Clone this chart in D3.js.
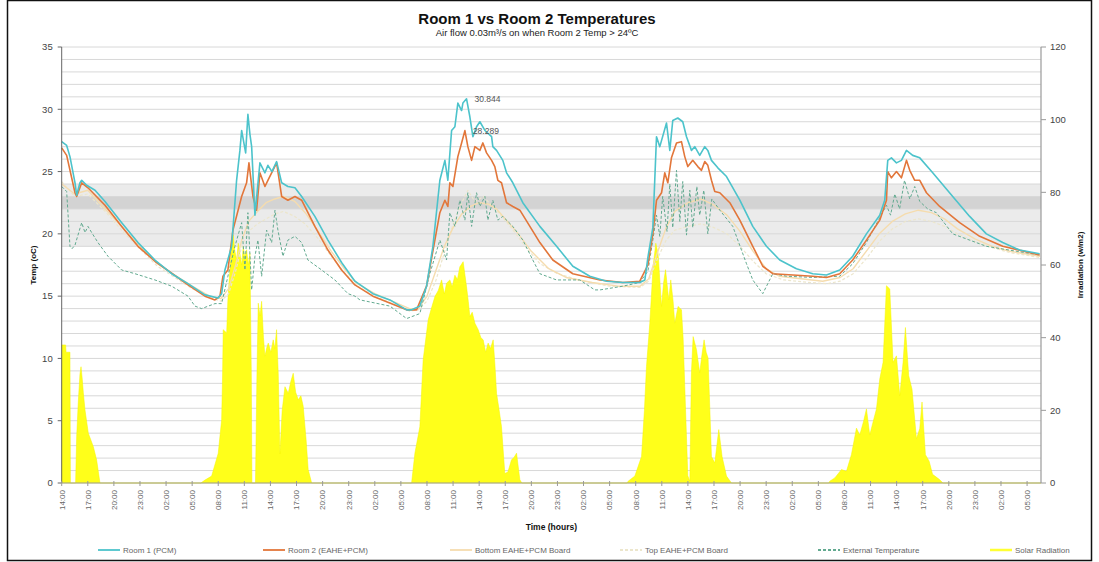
<!DOCTYPE html>
<html><head><meta charset="utf-8">
<script src="https://cdn.jsdelivr.net/npm/d3@7"></script>
<style>
html,body{margin:0;padding:0;background:#fff;}
svg{display:block;font-family:"Liberation Sans",Arial,sans-serif;}
</style></head>
<body><svg id="c" width="1099" height="562"></svg>
<script>
// ---------- data (hours since 14:00 on day 1) ----------
const xTickLabels = ["14:00","17:00","20:00","23:00","02:00","05:00","08:00","11:00",
"14:00","17:00","20:00","23:00","02:00","05:00","08:00","11:00",
"14:00","17:00","20:00","23:00","02:00","05:00","08:00","11:00",
"14:00","17:00","20:00","23:00","02:00","05:00","08:00","11:00",
"14:00","17:00","20:00","23:00","02:00","05:00"];
const tempTicks = [0,5,10,15,20,25,30,35];
const radTicks = [0,20,40,60,80,100,120];
const comfortBand = [19,24];
const comfortCore = [22,23];

const room1 = [[0,27.4],[0.57,27.1],[0.95,26.2],[1.53,24.1],[1.72,23.1],[2.1,24.1],[2.3,24.3],[2.87,23.9],[3.83,23.5],[4.98,22.6],[6.9,20.9],[8.77,19.3],[10.72,17.9],[12.64,16.8],[14.52,16.0],[16.47,15.1],[17.97,14.85],[18.39,15.2],[18.77,17.1],[19.54,19.0],[20.11,24.3],[20.49,26.7],[20.69,28.3],[21.15,26.5],[21.41,29.6],[21.64,28.0],[21.84,27.0],[22.22,21.5],[22.79,25.7],[23.37,24.9],[23.71,25.5],[24.17,25.0],[24.71,25.8],[25.29,24.1],[26.01,23.8],[26.82,23.7],[27.59,23.0],[29.11,21.4],[30.61,19.5],[32.18,17.7],[33.71,16.2],[35.78,15.2],[37.74,14.7],[39.66,13.9],[40.23,13.9],[41.18,14.2],[41.95,15.8],[42.68,19.0],[43.48,24.3],[44.06,25.9],[44.4,24.3],[44.83,28.3],[45.21,28.6],[45.55,30.5],[45.98,29.9],[46.13,30.5],[46.55,30.844],[46.93,29.4],[47.28,27.8],[47.7,28.6],[48.08,29.0],[48.66,28.3],[49.43,27.8],[49.57,27.0],[50.0,26.7],[50.72,25.9],[51.15,24.9],[51.87,24.1],[53.02,22.5],[54.98,20.6],[56.9,19.0],[58.77,17.4],[60.72,16.6],[62.64,16.2],[64.52,16.1],[66.47,16.1],[67.05,16.3],[67.4,18.1],[67.97,20.5],[68.39,27.8],[68.77,27.0],[69.54,28.9],[69.92,26.7],[70.26,29.1],[70.84,29.3],[71.41,29.0],[71.84,27.8],[72.41,26.7],[72.79,27.0],[73.36,26.3],[73.94,27.0],[74.29,26.7],[74.71,25.9],[75.44,25.3],[76.44,24.6],[77.97,22.7],[79.46,20.6],[81.03,19.0],[82.56,17.9],[84.48,17.2],[86.36,16.8],[87.93,16.7],[89.46,17.1],[90.95,18.2],[92.53,20.0],[94.06,21.5],[94.63,22.7],[94.98,25.9],[95.4,26.1],[95.98,25.7],[96.55,25.9],[97.13,26.7],[97.85,26.3],[98.66,26.1],[100.15,24.9],[102.45,23.0],[104.4,21.4],[106.32,20.0],[108.2,19.3],[110.15,18.7],[112.45,18.4]];

const room2 = [[0,26.9],[0.57,26.3],[1.53,23.3],[1.72,23.0],[2.3,24.1],[3.02,23.7],[4.98,22.3],[6.9,20.6],[8.77,19.0],[10.72,17.8],[14.52,15.9],[16.47,15.0],[17.62,14.7],[18.2,15.0],[18.54,16.6],[19.11,17.1],[19.69,20.3],[20.69,23.0],[21.26,24.1],[21.53,25.7],[21.99,23.0],[22.41,21.9],[22.79,24.9],[23.37,23.8],[23.71,24.3],[24.71,25.7],[25.29,23.0],[26.01,22.7],[26.82,23.0],[27.59,22.7],[29.11,20.6],[30.61,18.7],[32.18,17.1],[33.71,15.9],[35.78,15.0],[39.66,13.9],[40.8,13.9],[41.95,15.8],[43.48,21.7],[44.06,22.7],[44.4,22.2],[44.63,24.1],[44.98,23.8],[45.55,26.2],[45.98,27.3],[46.36,28.289],[46.7,27.0],[47.13,25.9],[47.51,27.0],[48.08,26.7],[48.43,27.3],[48.85,26.5],[49.43,25.9],[49.8,25.4],[50.15,24.3],[50.57,24.1],[51.15,22.5],[51.87,22.2],[52.68,21.9],[53.83,20.6],[54.98,19.3],[56.47,17.9],[58.77,16.8],[61.89,16.3],[64.52,16.1],[66.47,16.2],[67.4,17.5],[67.97,20.0],[68.39,22.7],[68.97,23.3],[69.34,24.9],[69.69,24.1],[70.11,26.1],[70.69,27.3],[71.26,27.4],[71.64,26.2],[71.99,25.4],[72.56,25.9],[73.14,25.4],[73.56,25.1],[73.94,25.8],[74.29,25.5],[74.71,24.3],[75.09,23.4],[75.67,23.3],[76.82,22.5],[77.97,21.1],[79.46,19.0],[80.61,17.4],[81.76,16.8],[84.06,16.7],[86.36,16.6],[87.93,16.5],[89.46,16.8],[90.95,17.9],[92.53,19.5],[94.06,21.1],[94.83,22.7],[94.98,25.0],[95.4,24.5],[95.98,25.0],[96.55,24.5],[97.13,25.9],[97.51,25.1],[98.08,24.3],[98.66,24.3],[99.43,23.3],[100.95,22.2],[103.25,20.9],[105.55,19.8],[108.2,19.0],[112.45,18.3]];

const bottomBoard = [[0,24.0],[1.5,23.2],[3,23.5],[5,22.0],[7,20.5],[9,19.0],[11,17.6],[13,16.7],[15,15.8],[17,15.0],[18.3,14.8],[19.2,15.6],[20,17.5],[20.7,19.5],[21.5,21.0],[22.5,21.8],[23.5,22.5],[24.5,22.8],[25.5,23.0],[26.8,22.6],[28,21.7],[29.5,20.2],[31,18.6],[32.5,17.2],[34,16.0],[36,15.2],[38,14.6],[40,14.0],[41,14.0],[42,15.0],[43,17.0],[44,19.0],[45,20.5],[46,21.6],[47,22.2],[48,22.5],[49,22.4],[50,22.0],[51,21.2],[52.5,20.0],[54,18.6],[56,17.2],[58,16.5],[61,16.1],[64,15.8],[66.5,15.8],[67.5,16.4],[68.5,18.5],[69.5,20.5],[70.5,21.8],[72,22.5],[73.5,22.8],[75,22.3],[76.5,21.5],[78,20.2],[79.5,18.6],[81,17.2],[82.5,16.6],[85,16.4],[87.5,16.2],[89.5,16.5],[91,17.2],[92.5,18.6],[94,20.0],[95.5,21.0],[97,21.6],[98.5,21.9],[100,21.7],[101.5,21.2],[103,20.4],[105,19.6],[107,19.0],[109,18.6],[112.5,18.2]];

const topBoard = [[0,24.2],[1.5,23.0],[3,23.2],[5,21.8],[7,20.2],[9,18.8],[11,17.4],[13,16.5],[15,15.6],[17,14.9],[18.3,14.6],[19.2,15.2],[20,17.0],[20.7,19.0],[21.5,20.2],[22.5,20.8],[23.5,21.2],[24.5,21.6],[25.5,21.8],[26.8,21.4],[28,20.8],[29.5,19.6],[31,18.2],[32.5,16.9],[34,15.8],[36,15.0],[38,14.4],[40,13.8],[41,13.9],[42,14.6],[43,16.2],[44,18.5],[45,20.8],[46,22.5],[46.7,23.5],[47.5,22.6],[48.5,23.0],[49.5,22.2],[50.5,21.5],[52,20.2],[53.5,18.8],[55,17.6],[57,16.8],[60,16.2],[63,15.8],[66.5,15.7],[67.5,16.2],[68.5,18.0],[69.5,19.5],[70.5,20.3],[72,20.6],[73.5,20.8],[75,20.5],[76.5,20.0],[78,19.0],[79.5,17.8],[81,16.8],[83,16.3],[86,16.1],[88,16.0],[89.5,16.2],[91,16.8],[92.5,18.0],[94,19.4],[95.5,20.4],[97,21.0],[98.5,21.2],[100,21.0],[101.5,20.6],[103,20.0],[105,19.4],[107,18.9],[109,18.5],[112.5,18.1]];

const external = [[0,23.8],[0.57,23.4],[0.95,19.0],[1.18,18.8],[1.53,19.1],[2.3,20.9],[2.68,20.1],[3.02,20.6],[3.45,20.1],[4.17,19.3],[5.32,18.2],[6.9,17.1],[8.43,16.8],[10.72,16.3],[12.64,15.8],[14.52,15.0],[15.32,14.2],[16.09,14.0],[17.62,14.4],[18.39,14.4],[19.11,16.6],[19.92,19.0],[20.69,20.9],[21.07,17.1],[21.41,21.7],[21.84,15.5],[22.22,18.2],[22.56,19.5],[22.99,16.6],[23.56,20.3],[24.14,19.3],[24.52,21.9],[24.86,20.3],[25.44,18.2],[26.01,19.5],[26.82,19.8],[27.59,19.3],[28.31,17.9],[29.89,17.1],[31.41,16.3],[32.91,15.2],[33.71,15.0],[34.29,14.7],[37.74,14.2],[38.89,13.6],[39.66,13.2],[41.18,13.6],[42.33,16.8],[43.48,19.5],[44.25,17.9],[44.63,21.7],[45.21,20.6],[45.78,22.7],[46.36,21.1],[46.7,23.3],[47.13,20.6],[47.7,23.3],[48.08,22.2],[48.66,23.0],[49.0,21.1],[49.57,22.7],[50.15,21.1],[50.72,21.4],[51.87,20.6],[53.02,19.5],[54.17,17.9],[54.98,16.8],[56.9,16.3],[59.57,16.3],[61.3,15.5],[61.89,15.5],[64.52,15.8],[66.47,16.1],[67.4,17.0],[67.97,19.5],[68.39,21.5],[68.77,19.8],[69.1,23.0],[69.6,20.2],[69.92,24.0],[70.26,20.5],[70.69,25.1],[71.07,21.0],[71.41,24.2],[71.84,19.9],[72.22,23.5],[72.56,20.5],[73.03,23.8],[73.36,21.5],[73.83,23.5],[74.29,20.0],[74.75,22.8],[75.67,21.9],[77.16,20.6],[78.74,17.6],[79.46,16.3],[80.61,15.2],[81.76,16.8],[83.33,16.6],[86.36,16.5],[89.46,16.6],[90.95,17.6],[92.53,19.3],[94.06,21.3],[94.83,22.3],[95.3,21.5],[95.79,23.2],[96.34,22.0],[96.91,24.3],[97.51,22.8],[98.08,23.8],[98.66,22.6],[99.57,22.0],[100.57,21.7],[102.45,20.0],[106.32,19.0],[112.45,18.3]];

const solar = [[0,38],[0.45,38],[0.5,36],[0.95,36],[1.0,0],[1.6,0],[1.72,12.7],[1.9,22],[2.1,30],[2.22,32],[2.35,29],[2.49,24.8],[2.68,20.1],[3.06,13.7],[3.64,10.0],[4.02,6.3],[4.4,0],
[16.0,0],[16.47,0.8],[17.24,1.9],[18.0,8.2],[18.39,17.4],[18.5,30],[18.57,42.2],[18.97,41.3],[19.1,50],[19.34,58.7],[19.5,64],[19.72,68.3],[19.9,64],[20.11,61.4],[20.3,66],[20.49,63.2],[20.7,60],[20.87,65.1],[21.05,62],[21.26,64.2],[21.45,60],[21.64,63.2],[21.8,30],[21.87,0],[22.28,0],[22.45,30],[22.6,49.5],[22.8,46],[22.99,50.0],[23.2,40],[23.37,34.9],[23.55,37],[23.75,38.5],[24.05,36],[24.32,39.4],[24.5,37],[24.71,42.2],[24.9,30],[25.09,8],[25.35,20],[25.67,26.5],[26.05,24.7],[26.35,28],[26.62,30.2],[26.9,25],[27.2,22.9],[27.5,24],[27.77,21.1],[28.1,12],[28.34,3.7],[28.74,0],
[40.23,0],[40.61,8.2],[41.18,15.5],[41.56,33.9],[42.14,44.9],[42.5,48],[42.91,51.3],[43.3,53],[43.68,55.9],[44.0,52],[44.25,55.0],[44.63,55.9],[44.9,54],[45.21,57.2],[45.5,56],[45.78,59.5],[46.16,60.9],[46.55,54.0],[46.75,50],[46.93,45.8],[47.2,47],[47.51,44.0],[47.89,42.2],[48.2,40],[48.46,39.4],[48.75,36],[49.03,38.5],[49.3,37],[49.61,39.4],[49.8,33],[50.0,24.7],[50.3,20],[50.57,15.5],[50.95,2.6],[51.3,3],[51.72,6.4],[52.0,7],[52.3,8.2],[52.68,0.9],[52.91,0],
[65.0,0],[65.13,0.5],[65.9,1.9],[66.67,7.3],[67.0,20],[67.24,32.1],[67.62,44.0],[68.0,59.6],[68.31,66.0],[68.57,63.2],[68.97,48.6],[69.2,55],[69.43,58.7],[69.8,50.4],[70.03,55.9],[70.3,50],[70.49,44.0],[70.87,48.6],[71.26,47.7],[71.45,40],[71.64,26.6],[71.99,2],[72.22,0.5],[72.4,30],[72.6,40.3],[72.99,36.7],[73.36,30.3],[73.6,35],[73.86,39.4],[74.1,36],[74.32,34.4],[74.71,7.3],[75.09,5.5],[75.55,14.7],[75.93,7.3],[76.44,1.9],[77.01,0],
[88.2,0],[88.31,0.5],[88.89,1.4],[89.66,3.7],[90.23,3.2],[90.8,7.8],[91.38,15.1],[91.76,13.2],[92.2,17],[92.53,20.4],[92.91,13.2],[93.29,16.8],[93.68,20.4],[94.06,28.6],[94.44,33.2],[94.83,54.3],[95.21,53.4],[95.59,33.2],[95.98,35.0],[96.36,24.0],[96.74,33.2],[97.01,42.8],[97.39,29.5],[97.77,25.8],[98.28,12.2],[98.66,15.0],[98.92,22.3],[99.31,7.8],[99.74,6.0],[100.13,2.4],[100.9,1.0],[101.33,0],[112.6,0]];

const legendItems = [
  {name:"Room 1 (PCM)", color:"#4cc3cb", dash:null, w:1.6},
  {name:"Room 2 (EAHE+PCM)", color:"#e2763a", dash:null, w:1.6},
  {name:"Bottom EAHE+PCM Board", color:"#f5dcae", dash:null, w:1.4},
  {name:"Top EAHE+PCM Board", color:"#ece6cc", dash:"3,2", w:1.2},
  {name:"External Temperature", color:"#62aa90", dash:"3,2", w:1},
  {name:"Solar Radiation", color:"#ffff33", dash:null, w:2}
];

// ---------- drawing ----------
const svg = d3.select("#c");
const W = 1099, H = 562;
const pL = 61.7, pR = 1041, pT = 47, pB = 483;
const x = d3.scaleLinear().domain([0,112.6]).range([pL,pR]);
const y = d3.scaleLinear().domain([0,35]).range([pB,pT]);
const yR = d3.scaleLinear().domain([0,120]).range([pB,pT]);

svg.append("rect").attr("x",0).attr("y",0).attr("width",W).attr("height",H).attr("fill","#fff");
svg.append("rect").attr("x",7.5).attr("y",0.5).attr("width",1084).attr("height",560)
  .attr("fill","none").attr("stroke","#111").attr("stroke-width",1.5);

svg.append("rect").attr("x",pL).attr("width",pR-pL)
  .attr("y",y(comfortBand[1])).attr("height",y(comfortBand[0])-y(comfortBand[1])).attr("fill","#ebebeb");
svg.append("rect").attr("x",pL).attr("width",pR-pL)
  .attr("y",y(comfortCore[1])).attr("height",y(comfortCore[0])-y(comfortCore[1])).attr("fill","#d3d3d3");

svg.append("g").selectAll("line").data(d3.range(1,36)).join("line")
  .attr("x1",pL).attr("x2",pR).attr("y1",d=>y(d)).attr("y2",d=>y(d))
  .attr("stroke","#d8d8d8").attr("stroke-width",1);

const area = d3.area().x(d=>x(d[0])).y0(pB).y1(d=>yR(d[1]));
svg.append("path").datum(solar).attr("d",area).attr("fill","#ffff1a").attr("stroke","#f4f400").attr("stroke-width",0.5);

const line = d3.line().x(d=>x(d[0])).y(d=>y(d[1]));
function drawLine(data, it){
  svg.append("path").datum(data).attr("d",line).attr("fill","none")
    .attr("stroke",it.color).attr("stroke-width",it.w)
    .attr("stroke-dasharray",it.dash).attr("stroke-linejoin","round");
}
drawLine(topBoard, legendItems[3]);
drawLine(bottomBoard, legendItems[2]);
drawLine(external, legendItems[4]);
drawLine(room2, legendItems[1]);
drawLine(room1, legendItems[0]);

[room1, room2].forEach(s=>{
  const m = s.reduce((a,b)=>b[1]>a[1]?b:a);
  svg.append("text").attr("x",x(m[0])+8).attr("y",y(m[1])).attr("dy","0.35em")
    .attr("font-size",8.5).attr("fill","#555").text(d3.format(".3f")(m[1]));
});

const axisColor = "#9a9a9a";
svg.append("line").attr("x1",pL).attr("x2",pL).attr("y1",pT).attr("y2",pB).attr("stroke","#666");
svg.append("line").attr("x1",pR).attr("x2",pR).attr("y1",pT).attr("y2",pB).attr("stroke",axisColor).attr("stroke-width",1.2);
svg.append("line").attr("x1",pL).attr("x2",pR).attr("y1",pB).attr("y2",pB).attr("stroke",axisColor);

const gl = svg.append("g");
tempTicks.forEach(v=>{
  gl.append("line").attr("x1",pL-4).attr("x2",pL).attr("y1",y(v)).attr("y2",y(v)).attr("stroke","#666");
  gl.append("text").attr("x",pL-9).attr("y",y(v)).attr("dy","0.35em").attr("text-anchor","end")
    .attr("font-size",9.5).attr("fill","#444").text(v);
});
const gr = svg.append("g");
radTicks.forEach(v=>{
  gr.append("line").attr("x1",pR).attr("x2",pR+5).attr("y1",yR(v)).attr("y2",yR(v)).attr("stroke",axisColor);
  gr.append("text").attr("x",pR+9).attr("y",yR(v)).attr("dy","0.35em").attr("text-anchor","start")
    .attr("font-size",9.5).attr("fill","#444").text(v);
});
const gx = svg.append("g");
xTickLabels.forEach((lab,i)=>{
  const xx = x(i*3);
  gx.append("line").attr("x1",xx).attr("x2",xx).attr("y1",pB-2).attr("y2",pB+3).attr("stroke",axisColor);
  gx.append("text").attr("transform",`translate(${xx},${pB+7}) rotate(-90)`)
    .attr("text-anchor","end").attr("dy","0.35em").attr("font-size",8).attr("fill","#666").text(lab);
});

svg.append("text").attr("x",537).attr("y",24).attr("text-anchor","middle")
  .attr("font-size",15).attr("font-weight","bold").attr("fill","#111").text("Room 1 vs Room 2 Temperatures");
svg.append("text").attr("x",537).attr("y",36).attr("text-anchor","middle")
  .attr("font-size",9.5).attr("fill","#222").text("Air flow 0.03m³/s on when Room 2 Temp > 24ºC");
svg.append("text").attr("x",(pL+pR)/2).attr("y",530).attr("text-anchor","middle")
  .attr("font-size",8.5).attr("font-weight","bold").attr("fill","#111").text("Time (hours)");
svg.append("text").attr("transform",`translate(36,${(pT+pB)/2}) rotate(-90)`).attr("text-anchor","middle")
  .attr("font-size",8).attr("font-weight","bold").attr("fill","#111").text("Temp (oC)");
svg.append("text").attr("transform",`translate(1083,${(pT+pB)/2}) rotate(-90)`).attr("text-anchor","middle")
  .attr("font-size",8).attr("font-weight","bold").attr("fill","#111").text("Irradiation (w/m2)");

const legX = [98, 263, 450, 620, 818, 990];
legendItems.forEach((it,i)=>{
  const g = svg.append("g").attr("transform",`translate(${legX[i]},550)`);
  g.append("line").attr("x1",0).attr("x2",22).attr("y1",0).attr("y2",0)
    .attr("stroke",it.color).attr("stroke-width",it.name==="Solar Radiation"?2.5:1.8).attr("stroke-dasharray",it.dash);
  g.append("text").attr("x",25).attr("y",0).attr("dy","0.35em").attr("font-size",8).attr("fill","#666").text(it.name);
});
</script></body></html>
